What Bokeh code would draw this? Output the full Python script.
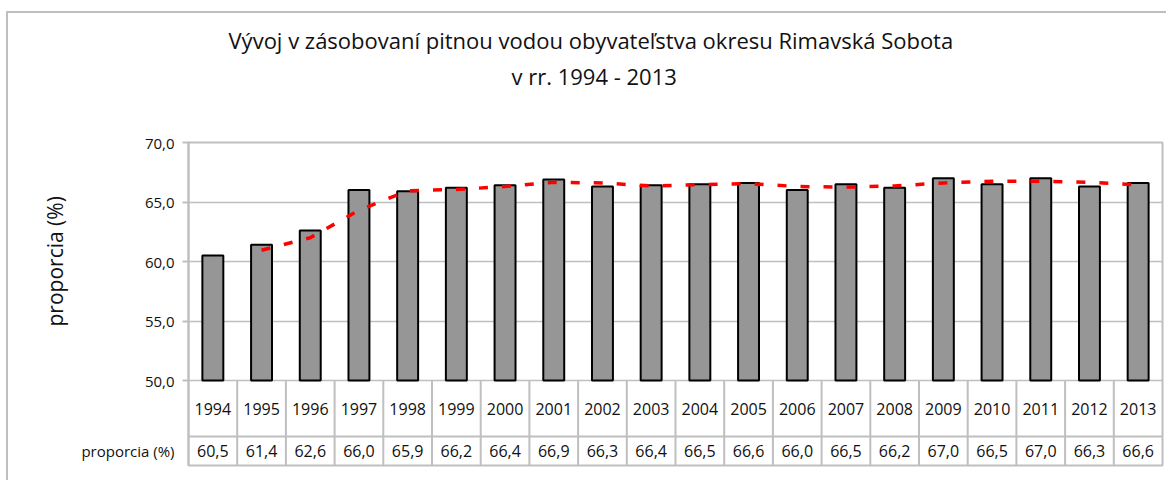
from bokeh.plotting import figure
from bokeh.models import ColumnDataSource, FixedTicker, Range1d, Column, Title
from bokeh.core.properties import value
from bokeh.embed import file_html
from bokeh.resources import INLINE

# ---------------- data ----------------
years = ["1994", "1995", "1996", "1997", "1998", "1999", "2000", "2001", "2002", "2003",
         "2004", "2005", "2006", "2007", "2008", "2009", "2010", "2011", "2012", "2013"]
proporcia = [60.5, 61.4, 62.6, 66.0, 65.9, 66.2, 66.4, 66.9, 66.3, 66.4,
             66.5, 66.6, 66.0, 66.5, 66.2, 67.0, 66.5, 67.0, 66.3, 66.6]
trend_years = years[1:]
trend_values = [60.95, 62.0, 64.3, 65.95, 66.05, 66.3, 66.65, 66.6, 66.35, 66.45,
                66.55, 66.3, 66.25, 66.35, 66.6, 66.75, 66.75, 66.65, 66.45]
y_ticks = [50, 55, 60, 65, 70]
y_tick_labels = ["50,0", "55,0", "60,0", "65,0", "70,0"]
title_line1 = "Vývoj v zásobovaní pitnou vodou obyvateľstva okresu Rimavská Sobota"
title_line2 = "v rr. 1994 - 2013"
series_name = "proporcia (%)"

FONT = "Open Sans"
GRID = "#bfbfbf"
TXT = "#111111"

# ---------------- layout constants (pixels) ----------------
W, H = 1158, 467
FRAME_L, FRAME_R, FRAME_T, FRAME_B = 180, 1154, 129, 452
AXIS_BOTTOM_PX = 367            # pixel row of the 50,0 line
PX_PER_Y = (AXIS_BOTTOM_PX - FRAME_T) / (y_ticks[-1] - y_ticks[0])
ROW_SPLIT_PX = 423              # line between year row and value row
YEAR_ROW_PX = 395
VALUE_ROW_PX = 437


def px_to_y(px):
    return y_ticks[-1] - (px - FRAME_T) / PX_PER_Y


y_min = px_to_y(FRAME_B)
y_split = px_to_y(ROW_SPLIT_PX)
y_year = px_to_y(YEAR_ROW_PX)
y_value = px_to_y(VALUE_ROW_PX)

p = figure(width=W, height=H, x_range=years, y_range=Range1d(y_min, y_ticks[-1]),
           output_backend="svg", toolbar_location=None, x_axis_location=None,
           min_border_left=FRAME_L, min_border_right=W - FRAME_R,
           min_border_top=FRAME_T, min_border_bottom=H - FRAME_B)
p.title.visible = False
p.outline_line_color = GRID
p.outline_line_width = 2
p.background_fill_color = "white"
p.border_fill_color = "white"

# bars
src = ColumnDataSource(dict(x=years, top=proporcia))
p.vbar(x="x", top="top", bottom=y_ticks[0], width=0.43, source=src,
       fill_color="#969696", line_color="black", line_width=2)

# moving-average trend
tsrc = ColumnDataSource(dict(x=trend_years, y=trend_values))
p.line(x="x", y="y", source=tsrc, line_color="#ff0000", line_width=3.5,
       line_dash="9 14")

# y axis (with the data-table row label as an extra, unmarked tick)
ax = p.yaxis[0]
ax.ticker = FixedTicker(ticks=y_ticks + [y_value], minor_ticks=y_ticks)
overrides = {t: l for t, l in zip(y_ticks, y_tick_labels)}
overrides[y_value] = series_name
ax.major_label_overrides = overrides
ax.major_tick_in = 0
ax.major_tick_out = 0
ax.major_tick_line_color = None
ax.minor_tick_in = 0
ax.minor_tick_out = 6
ax.minor_tick_line_color = GRID
ax.minor_tick_line_width = 2
ax.axis_line_color = GRID
ax.axis_line_width = 2
ax.major_label_standoff = 8
ax.major_label_text_font = FONT
ax.major_label_text_font_size = "15px"
ax.major_label_text_color = TXT

p.ygrid.grid_line_color = GRID
p.ygrid.grid_line_width = 1.5
p.ygrid.ticker = FixedTicker(ticks=y_ticks)
p.xgrid.visible = False

# y axis title as a rotated side title
p.add_layout(Title(text=series_name, align="left", offset=139, standoff=20,
                   text_font=FONT, text_font_size="21px", text_font_style="normal",
                   text_color=TXT), "left")

# chart title (two lines) above an invisible spacer
p.add_layout(Title(text=" ", standoff=47, text_font_size="1px"), "above")
p.add_layout(Title(text=title_line2, align="left", offset=323, standoff=4,
                   text_font=FONT, text_font_size="22px", text_font_style="normal",
                   text_color=TXT), "above")
p.add_layout(Title(text=title_line1, align="left", offset=40, standoff=4,
                   text_font=FONT, text_font_size="22px", text_font_style="normal",
                   text_color=TXT), "above")

# data table under the plot
n = len(years)
inner = [float(i) for i in range(1, n)]
p.segment(x0=inner, y0=[y_min] * len(inner), x1=inner, y1=[y_ticks[0]] * len(inner),
          line_color=GRID, line_width=2)
p.segment(x0=[0.0], y0=[y_split], x1=[float(n)], y1=[y_split],
          line_color=GRID, line_width=2)
p.text(x=years, y=[y_year] * n, text=years, text_align="center", text_baseline="middle",
       text_font=value(FONT), text_font_size="16px", text_color=TXT)
p.text(x=years, y=[y_value] * n, text=[f"{v:.1f}".replace(".", ",") for v in proporcia],
       text_align="center", text_baseline="middle",
       text_font=value(FONT), text_font_size="16px", text_color=TXT)

layout = Column(children=[p], spacing=0,
                styles={"margin-left": "6px", "margin-top": "11px",
                        "border-left": "2px solid #bfbfbf",
                        "border-top": "2px solid #bfbfbf"})

open("out.html", "w").write(file_html(layout, INLINE))
